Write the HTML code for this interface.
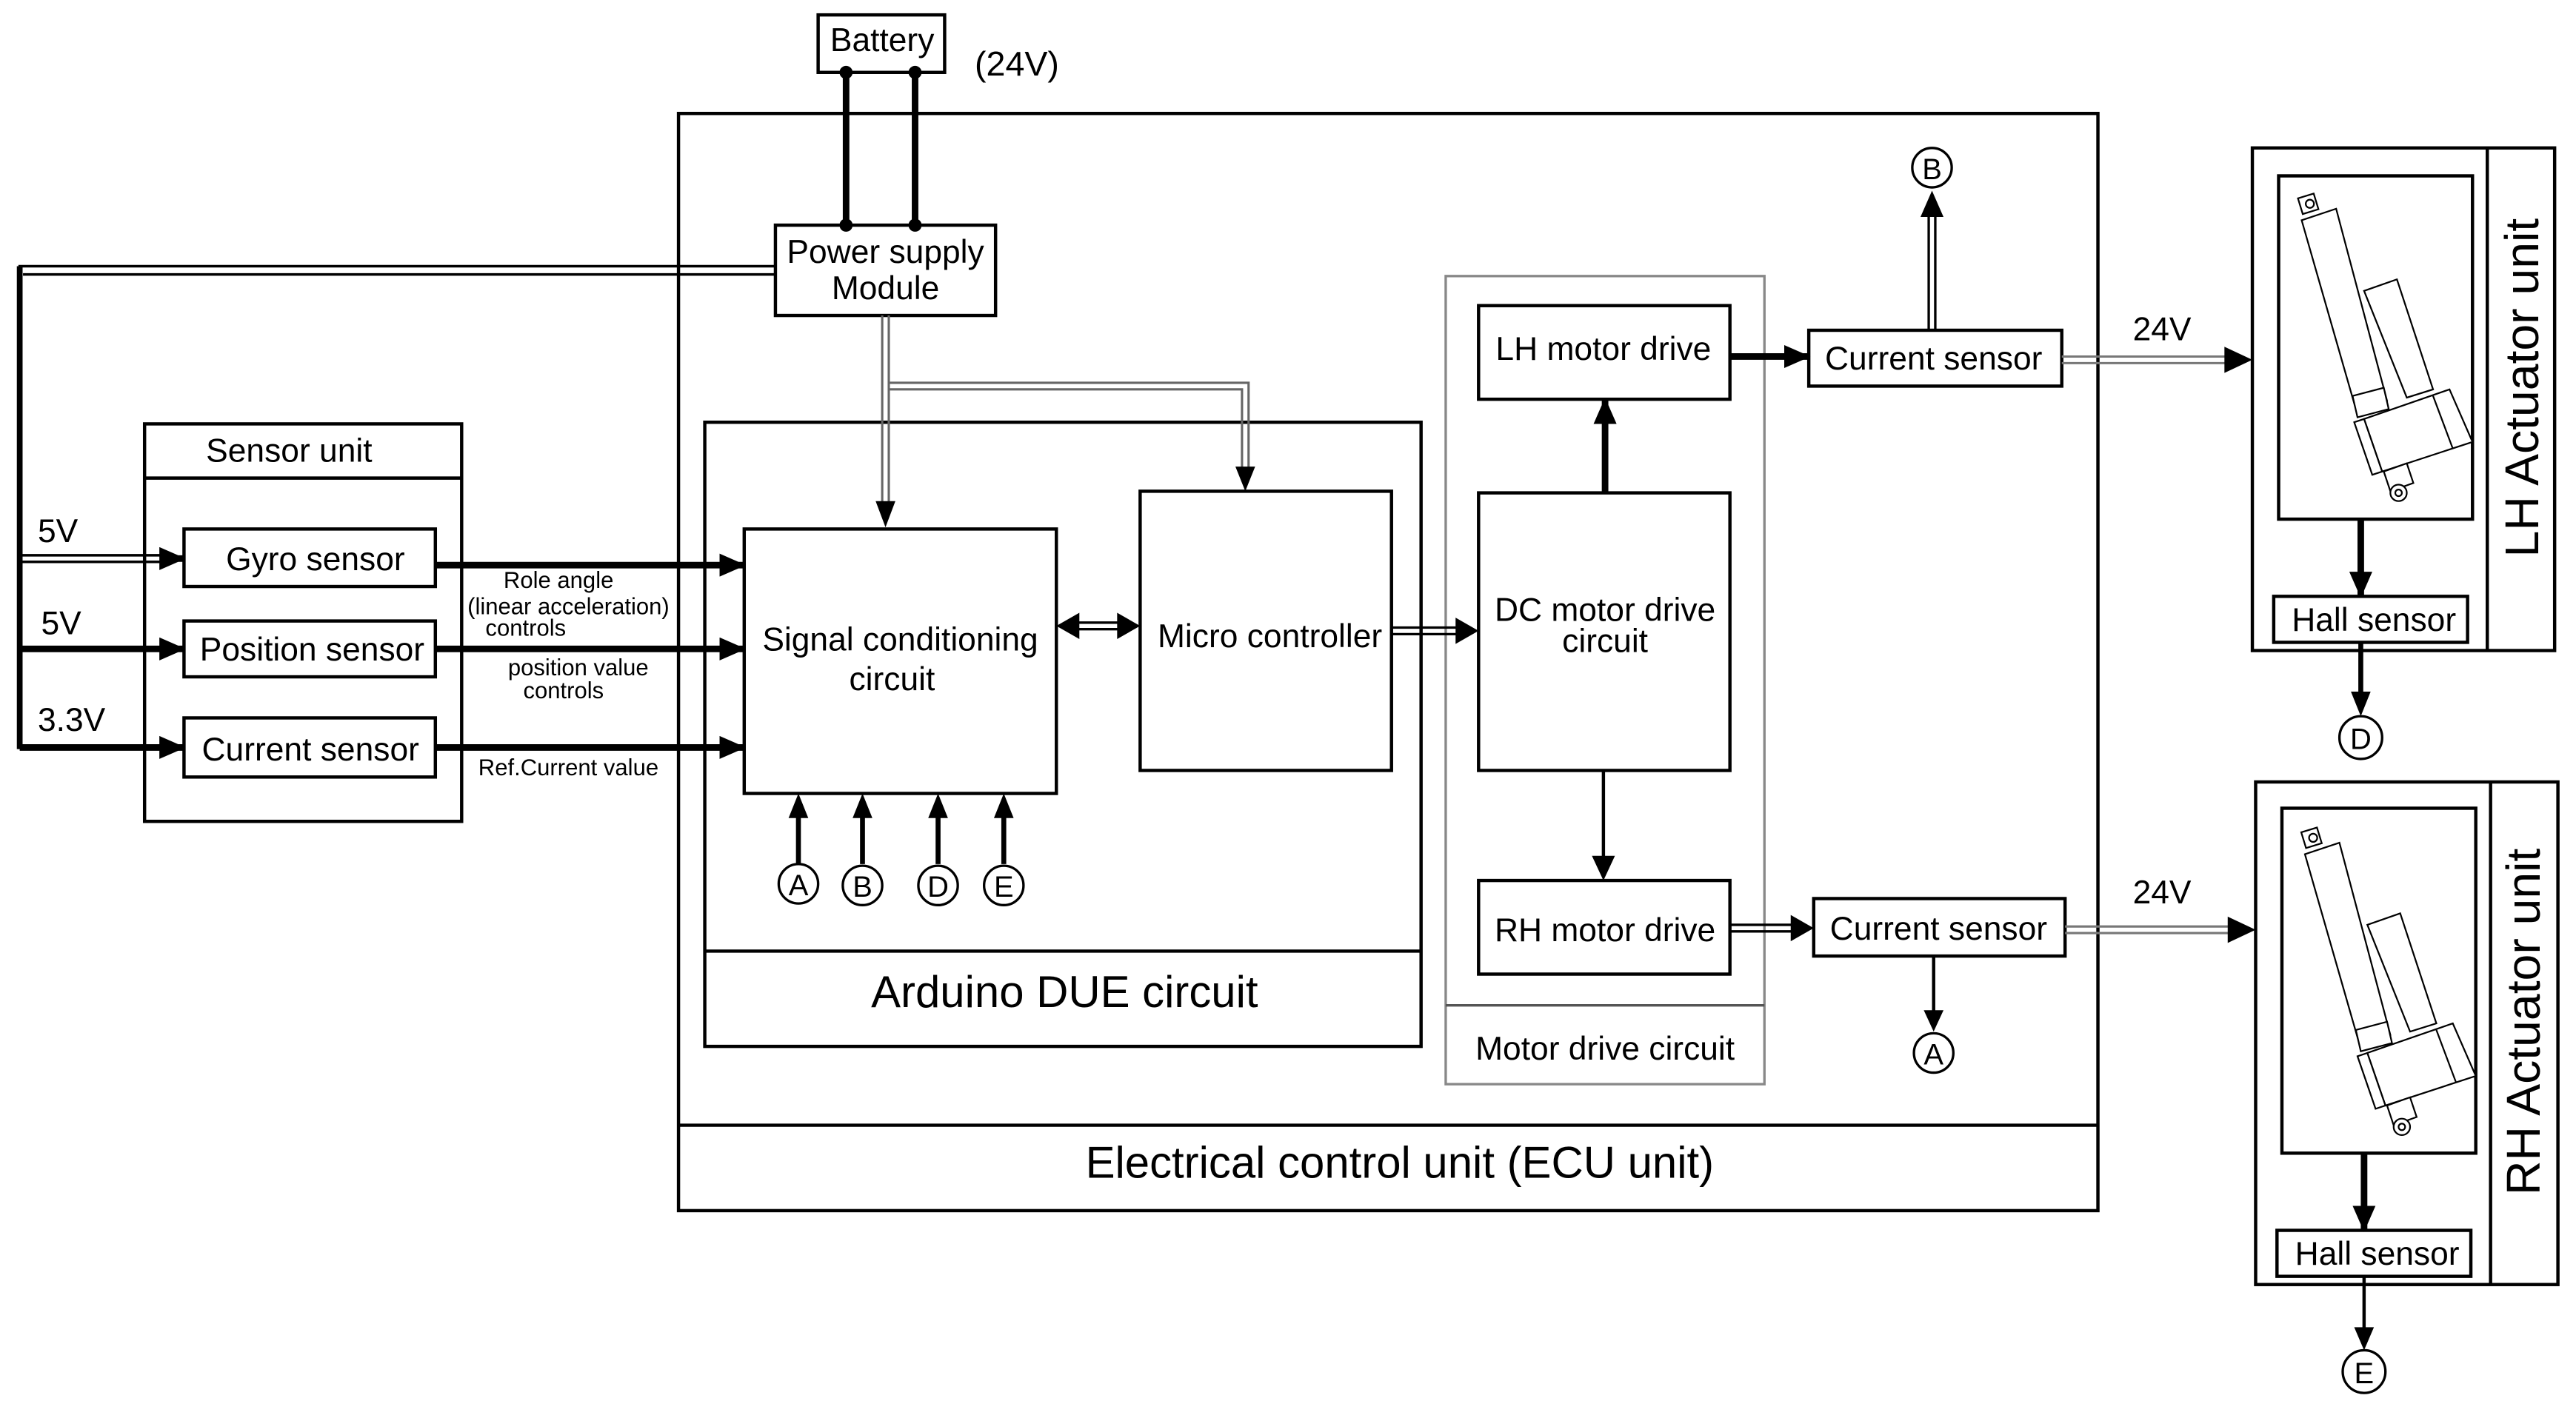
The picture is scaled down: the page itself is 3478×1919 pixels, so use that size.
<!DOCTYPE html>
<html><head><meta charset="utf-8"><style>
html,body{margin:0;padding:0;background:#fff}
svg{display:block}
text{font-family:"Liberation Sans Narrow","Liberation Sans",sans-serif;fill:#000}
</style></head><body>
<svg width="3478" height="1919" viewBox="0 0 1568 865" xmlns="http://www.w3.org/2000/svg">
<defs>
<marker id="ah" markerWidth="10" markerHeight="10" refX="9" refY="5" orient="auto" markerUnits="userSpaceOnUse"><path d="M0,0 L10,5 L0,10 z" fill="#000"/></marker>
<marker id="ahb" markerWidth="16" markerHeight="14" refX="15" refY="7" orient="auto" markerUnits="userSpaceOnUse"><path d="M0,0 L16,7 L0,14 z" fill="#000"/></marker>
</defs>
<g fill="none" stroke="#000" stroke-width="2">
<!-- battery -->
<rect x="498" y="9" width="77" height="35"/>
<rect x="413" y="69" width="864" height="668"/>
<line x1="413" y1="685" x2="1277" y2="685"/>
<rect x="472" y="137" width="134" height="55" fill="#fff"/>
<rect x="88" y="258" width="193" height="242"/>
<line x1="88" y1="291" x2="281" y2="291"/>
<rect x="112" y="322" width="153" height="35"/>
<rect x="112" y="378" width="153" height="34"/>
<rect x="112" y="437" width="153" height="36"/>
<rect x="429" y="257" width="436" height="380"/>
<line x1="429" y1="579" x2="865" y2="579"/>
<rect x="453" y="322" width="190" height="161"/>
<rect x="694" y="299" width="153" height="170"/>
<rect x="880" y="168" width="194" height="492" stroke="#888" stroke-width="1.5"/>
<line x1="880" y1="612" x2="1074" y2="612" stroke="#555" stroke-width="1.5"/>
<rect x="900" y="186" width="153" height="57"/>
<rect x="900" y="300" width="153" height="169"/>
<rect x="900" y="536" width="153" height="57"/>
<rect x="1101" y="201" width="154" height="34"/>
<rect x="1104" y="547" width="153" height="35"/>
<rect x="1371" y="90" width="184" height="306"/>
<line x1="1514" y1="90" x2="1514" y2="396"/>
<rect x="1387" y="107" width="118" height="209"/>
<rect x="1384" y="363" width="118" height="28"/>
<rect x="1373" y="476" width="184" height="306"/>
<line x1="1516" y1="476" x2="1516" y2="782"/>
<rect x="1389" y="492" width="118" height="210"/>
<rect x="1386" y="749" width="118" height="28"/>
</g>
<!-- battery wires -->
<g stroke="#000" stroke-width="4">
<line x1="515" y1="44" x2="515" y2="137"/><line x1="557" y1="44" x2="557" y2="137"/>
</g>
<g fill="#000"><circle cx="515" cy="44" r="4"/><circle cx="557" cy="44" r="4"/><circle cx="515" cy="137" r="4"/><circle cx="557" cy="137" r="4"/></g>
<!-- power to left -->
<g fill="none" stroke="#000" stroke-width="1.6">
<polyline points="472,162 12,162 12,456"/>
<line x1="472" y1="167" x2="14" y2="167"/>
<line x1="12" y1="338" x2="102" y2="338"/><line x1="12" y1="342" x2="102" y2="342"/>
</g>
<line x1="12" y1="162" x2="12" y2="456" stroke="#000" stroke-width="3.5"/>
<g stroke="#000" stroke-width="4" marker-end="url(#ahb)">
<line x1="100" y1="340" x2="112" y2="340"/>
<line x1="12" y1="395" x2="112" y2="395"/>
<line x1="12" y1="455" x2="112" y2="455"/>
<line x1="265" y1="344" x2="453" y2="344"/>
<line x1="265" y1="395" x2="453" y2="395"/>
<line x1="265" y1="455" x2="453" y2="455"/>
<line x1="1053" y1="217" x2="1101" y2="217"/>
<line x1="977" y1="300" x2="977" y2="243"/>
<line x1="1437" y1="316" x2="1437" y2="363"/>
<line x1="1439" y1="702" x2="1439" y2="749"/>
</g>
<!-- gray power lines -->
<g fill="none" stroke="#666" stroke-width="1.4">
<line x1="537" y1="192" x2="537" y2="306"/><line x1="541" y1="192" x2="541" y2="306"/>
<polyline points="541,233 760,233 760,286"/><polyline points="541,237 756,237 756,286"/>
</g>
<path d="M533,305 L545,305 L539,321 z M752,284 L764,284 L758,299 z" fill="#000"/>
<!-- bidirectional SC-MC -->
<g stroke="#000" stroke-width="1.5"><line x1="655" y1="379" x2="682" y2="379"/><line x1="655" y1="383" x2="682" y2="383"/></g>
<path d="M643,381 L657,373 L657,389 z M694,381 L680,373 L680,389 z" fill="#000"/>
<!-- MC to DC -->
<g stroke="#000" stroke-width="1.5"><line x1="847" y1="382" x2="888" y2="382"/><line x1="847" y1="386" x2="888" y2="386"/></g>
<path d="M900,384 L886,376 L886,392 z" fill="#000"/>
<!-- DC to RH -->
<line x1="976" y1="469" x2="976" y2="524" stroke="#000" stroke-width="2"/>
<path d="M976,536 L969,521 L983,521 z" fill="#000"/>
<!-- RH to CS -->
<g stroke="#000" stroke-width="1.5"><line x1="1053" y1="563" x2="1092" y2="563"/><line x1="1053" y1="567" x2="1092" y2="567"/></g>
<path d="M1104,565 L1090,557 L1090,573 z" fill="#000"/>
<!-- CS to B -->
<g stroke="#000" stroke-width="1.5"><line x1="1174" y1="201" x2="1174" y2="130"/><line x1="1178" y1="201" x2="1178" y2="130"/></g>
<path d="M1176,116 L1169,132 L1183,132 z" fill="#000"/>
<!-- CS to A -->
<line x1="1177" y1="582" x2="1177" y2="618" stroke="#000" stroke-width="2"/>
<path d="M1177,628 L1171,615 L1183,615 z" fill="#000"/>
<!-- 24V lines -->
<g stroke="#777" stroke-width="1.4"><line x1="1255" y1="217" x2="1356" y2="217"/><line x1="1255" y1="221" x2="1356" y2="221"/>
<line x1="1257" y1="564" x2="1358" y2="564"/><line x1="1257" y1="568" x2="1358" y2="568"/></g>
<path d="M1371,219 L1354,211 L1354,227 z M1373,566 L1356,558 L1356,574 z" fill="#000"/>
<!-- hall to D/E -->
<line x1="1437" y1="391" x2="1437" y2="424" stroke="#000" stroke-width="3"/>
<path d="M1437,436 L1431,421 L1443,421 z" fill="#000"/>
<line x1="1439" y1="777" x2="1439" y2="810" stroke="#000" stroke-width="2"/>
<path d="M1439,822 L1433,808 L1445,808 z" fill="#000"/>
<!-- A B D E inputs -->
<g stroke="#000" stroke-width="3">
<line x1="486" y1="526" x2="486" y2="496"/><line x1="525" y1="526" x2="525" y2="496"/><line x1="571" y1="526" x2="571" y2="496"/><line x1="611" y1="526" x2="611" y2="496"/></g>
<path d="M486,483 L480,498 L492,498 z M525,483 L519,498 L531,498 z M571,483 L565,498 L577,498 z M611,483 L605,498 L617,498 z" fill="#000"/>
<g fill="#fff" stroke="#000" stroke-width="1.5">
<circle cx="486" cy="538" r="12"/><circle cx="525" cy="539" r="12"/><circle cx="571" cy="539" r="12"/><circle cx="611" cy="539" r="12"/>
<circle cx="1176" cy="102" r="12"/><circle cx="1177" cy="641" r="12"/><circle cx="1437" cy="449" r="13"/><circle cx="1439" cy="835" r="13"/>
</g>
<g font-size="18" text-anchor="middle">
<text x="486" y="545">A</text><text x="525" y="546">B</text><text x="571" y="546">D</text><text x="611" y="546">E</text>
<text x="1176" y="109">B</text><text x="1177" y="648">A</text><text x="1437" y="456">D</text><text x="1439" y="842">E</text>
</g>
<!-- actuator drawings -->
<g id="act" fill="#fff" stroke="#000" stroke-width="1">
<g transform="translate(1387,107)">
<rect x="13" y="12" width="10" height="10" transform="rotate(-17 18 17)"/>
<circle cx="19" cy="17" r="2.5"/>
<polygon points="14,27 35,20 66,137 47,142"/>
<polygon points="52,70 72,63 94,130 78,135"/>
<polygon points="45,134 64,129 67,142 48,147"/>
<polygon points="52,148 104,130 118,162 63,180"/>
<polygon points="46,150 52,148 63,180 57,182"/>
<line x1="94" y1="134" x2="106" y2="166"/>
<polygon points="64,180 78,175 82,187 68,192"/>
<circle cx="73" cy="193" r="5"/><circle cx="73" cy="193" r="2"/>
</g>
</g>
<use href="#act" x="2" y="386"/>
<!-- text -->
<g font-size="20" text-anchor="middle">
<text x="537" y="31">Battery</text>
<text x="619" y="46" font-size="21">(24V)</text>
<text x="539" y="160">Power supply</text>
<text x="539" y="182">Module</text>
<text x="176" y="281">Sensor unit</text>
<text x="192" y="347">Gyro sensor</text>
<text x="190" y="402">Position sensor</text>
<text x="189" y="463">Current sensor</text>
<text x="548" y="396">Signal conditioning</text>
<text x="543" y="420">circuit</text>
<text x="773" y="394">Micro controller</text>
<text x="976" y="219">LH motor drive</text>
<text x="977" y="378">DC motor drive</text>
<text x="977" y="397">circuit</text>
<text x="977" y="573">RH motor drive</text>
<text x="977" y="645">Motor drive circuit</text>
<text x="1177" y="225">Current sensor</text>
<text x="1180" y="572">Current sensor</text>
<text x="1316" y="207">24V</text>
<text x="1316" y="550">24V</text>
<text x="1445" y="384" font-family="Liberation Sans">Hall sensor</text>
<text x="1447" y="770" font-family="Liberation Sans">Hall sensor</text>
</g>
<g font-size="20">
<text x="23" y="330">5V</text><text x="25" y="386">5V</text><text x="23" y="445">3.3V</text>
</g>
<g font-size="14" text-anchor="middle">
<text x="340" y="358">Role angle</text>
<text x="346" y="374">(linear acceleration)</text>
<text x="320" y="387">controls</text>
<text x="352" y="411">position value</text>
<text x="343" y="425">controls</text>
<text x="346" y="472">Ref.Current value</text>
</g>
<g font-size="27" text-anchor="middle">
<text x="648" y="613">Arduino DUE circuit</text>
<text x="852" y="717">Electrical control unit (ECU unit)</text>
</g>
<g font-size="29" text-anchor="middle" font-family="Liberation Sans">
<text transform="translate(1545,236) rotate(-90)">LH Actuator unit</text>
<text transform="translate(1546,622) rotate(-90)">RH Actuator unit</text>
</g>
</svg>
</body></html>
